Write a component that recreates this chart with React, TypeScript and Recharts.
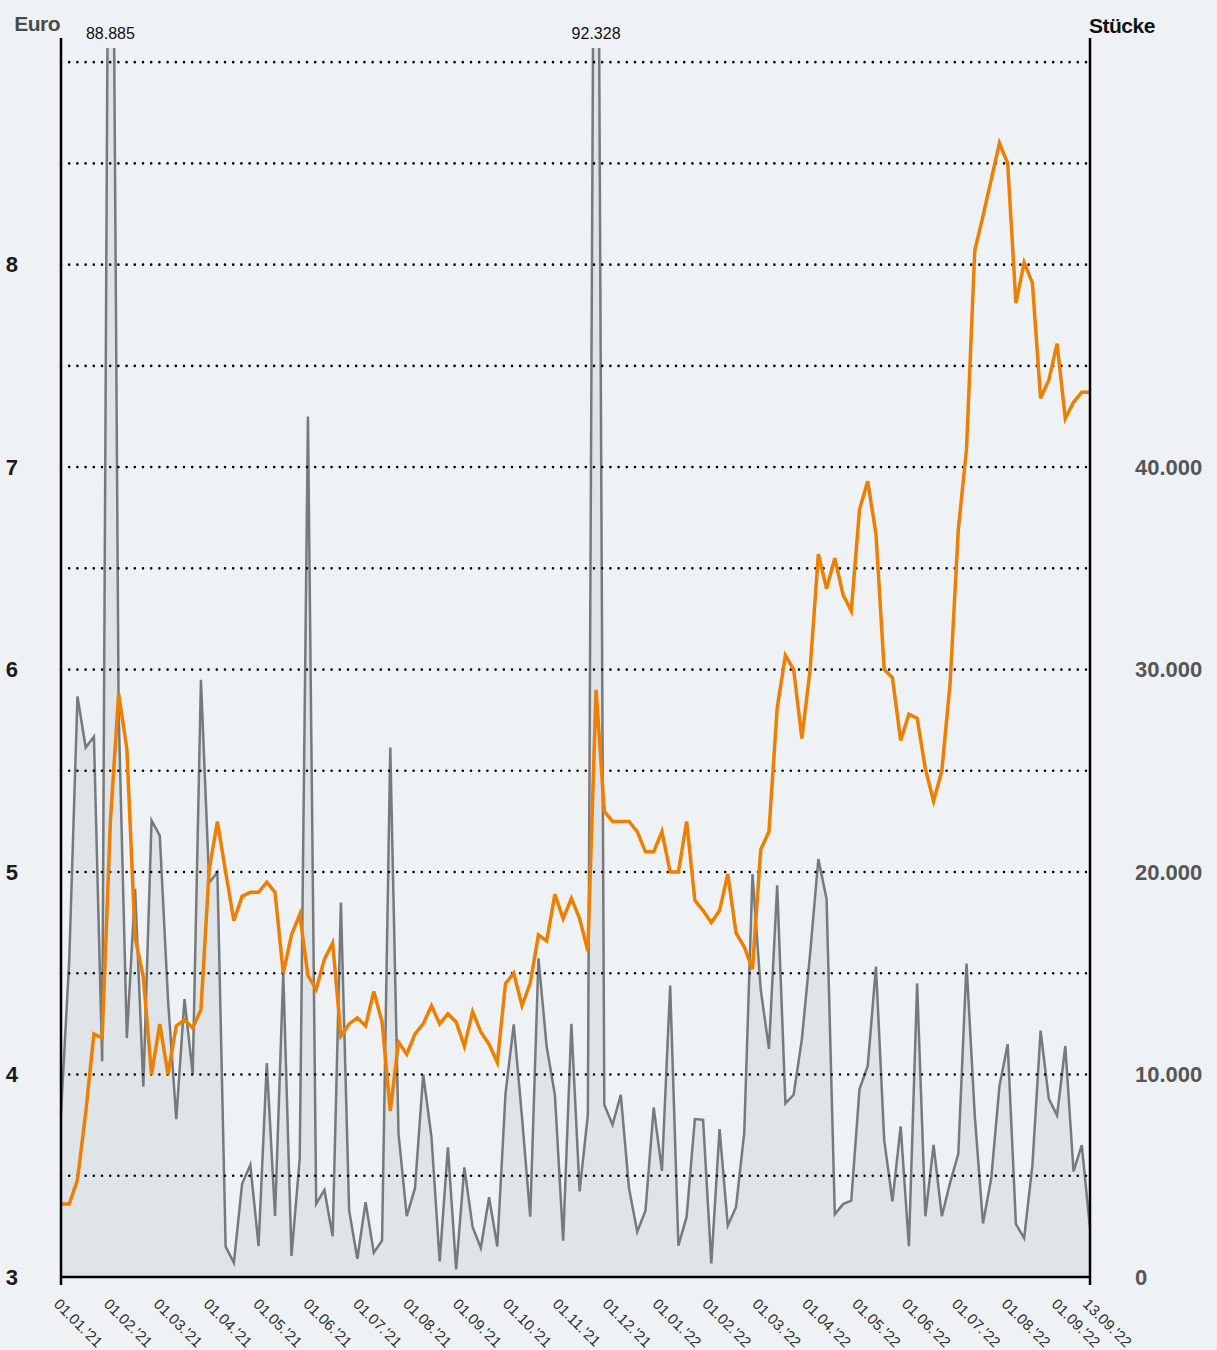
import React from 'react';
import { ComposedChart, Area, Line, XAxis, YAxis, ReferenceLine, ReferenceDot } from 'recharts';

// ---- data ----
const monthLabels = [
  "01.01.'21", "01.02.'21", "01.03.'21", "01.04.'21", "01.05.'21", "01.06.'21",
  "01.07.'21", "01.08.'21", "01.09.'21", "01.10.'21", "01.11.'21", "01.12.'21",
  "01.01.'22", "01.02.'22", "01.03.'22", "01.04.'22", "01.05.'22", "01.06.'22",
  "01.07.'22", "01.08.'22", "01.09.'22",
];
const lastLabel = "13.09.'22";

const price = [
  3.36, 3.36, 3.48, 3.81, 4.20, 4.18, 5.25, 5.88, 5.61, 4.68,
  4.48, 4.00, 4.25, 4.00, 4.24, 4.27, 4.23, 4.32, 5.01, 5.25,
  5.00, 4.76, 4.88, 4.90, 4.90, 4.95, 4.90, 4.50, 4.69, 4.79,
  4.49, 4.42, 4.57, 4.65, 4.19, 4.25, 4.28, 4.24, 4.41, 4.26,
  3.82, 4.16, 4.10, 4.20, 4.25, 4.34, 4.25, 4.30, 4.26, 4.14,
  4.31, 4.21, 4.15, 4.06, 4.45, 4.50, 4.34, 4.45, 4.69, 4.66,
  4.89, 4.77, 4.87, 4.77, 4.61, 5.90, 5.30, 5.25, 5.25, 5.25,
  5.20, 5.10, 5.10, 5.20, 5.00, 5.00, 5.25, 4.86, 4.81, 4.75,
  4.81, 4.99, 4.70, 4.63, 4.52, 5.11, 5.20, 5.81, 6.07, 6.00,
  5.66, 6.00, 6.57, 6.40, 6.55, 6.37, 6.29, 6.79, 6.93, 6.67,
  6.00, 5.96, 5.65, 5.78, 5.76, 5.51, 5.35, 5.50, 5.93, 6.69,
  7.09, 8.07, 8.24, 8.42, 8.60, 8.50, 7.81, 8.01, 7.91, 7.34,
  7.43, 7.61, 7.24, 7.32, 7.37, 7.37,
];

const volume = [
  8080, 15640, 28675, 26150, 26690, 10660, 88885, 28000, 11800, 19170,
  9400, 22550, 21800, 13700, 7800, 13730, 10020, 29500, 19480, 19985,
  1500, 700, 4600, 5540, 1530, 10560, 3016, 15030, 1040, 5850,
  42500, 3620, 4300, 2010, 18500, 3290, 900, 3700, 1205, 1800,
  26150, 7070, 3010, 4385, 10000, 6925, 770, 6410, 380, 5410,
  2470, 1430, 3940, 1510, 9075, 12480, 7900, 2980, 15740, 11370,
  8985, 1793, 12510, 4230, 8010, 92328, 8505, 7515, 9000, 4385,
  2240, 3278, 8370, 5240, 14400, 1550, 2980, 7800, 7762, 675,
  7300, 2538, 3445, 7135, 19900, 14200, 11270, 19350, 8570, 9000,
  11750, 15970, 20645, 18670, 3100, 3600, 3770, 9280, 10420, 15330,
  6770, 3730, 7440, 1520, 14500, 3000, 6530, 3000, 4650, 6080,
  15480, 7980, 2645, 4860, 9430, 11500, 2615, 1920, 5500, 12170,
  8800, 7980, 11410, 5220, 6510, 2420,
];

const leftTicks = [3, 4, 5, 6, 7, 8];
const rightTicks = [0, 10000, 20000, 30000, 40000];
const gridValues = [3.5, 4, 4.5, 5, 5.5, 6, 6.5, 7, 7.5, 8, 8.5, 9];

// ---- axis setup ----
const LEFT_MIN = 3;
const LEFT_MAX = 9.07;
const RIGHT_MAX = 60700;
const MONTH_STEP = 6.06; // data points per month tick
const LAST_INDEX = price.length - 1;

const data = price.map((p, i) => ({ i, price: p, volume: volume[i] }));

const tickMap = new Map<number, string>();
monthLabels.forEach((l, k) => tickMap.set(+(k * MONTH_STEP).toFixed(3), l));
tickMap.set(LAST_INDEX, lastLabel);
const xTicks = Array.from(tickMap.keys());

const spikes = data.filter((d) => d.volume > RIGHT_MAX);

const fmtThousands = (v: number) => String(v).replace(/\B(?=(\d{3})+(?!\d))/g, '.');

const FONT = "'Liberation Sans', Arial, sans-serif";

const XTick = (props: any) => {
  const { x, y, payload } = props;
  const label = tickMap.get(payload.value) ?? '';
  const ax = x - 8;
  const ay = y + 26;
  return (
    <text
      x={ax}
      y={ay}
      transform={`rotate(45 ${ax} ${ay})`}
      textAnchor="start"
      fontSize={15}
      fontFamily={FONT}
      fill="#2e2e2e"
    >
      {label}
    </text>
  );
};

const EuroLabel = (props: any) => {
  const vb = props.viewBox || {};
  return (
    <text x={vb.x + vb.width - 1} y={vb.y - 17} textAnchor="end" fontSize={21} fontWeight="bold" letterSpacing={-0.5} fontFamily={FONT} fill="#4a4a4a">
      Euro
    </text>
  );
};

const StueckeLabel = (props: any) => {
  const vb = props.viewBox || {};
  return (
    <text x={vb.x - 1} y={vb.y - 15} textAnchor="start" fontSize={21} fontWeight="bold" letterSpacing={-0.5} fontFamily={FONT} fill="#111">
      Stücke
    </text>
  );
};

export default function App() {
  return (
    <div style={{ position: 'absolute', left: 0, top: 0, width: 1217, height: 1350, background: '#EEF2F5' }}>
      <ComposedChart
        width={1217}
        height={1350}
        data={data}
        margin={{ top: 48, left: 11, right: 7, bottom: 13 }}
      >
        <XAxis
          dataKey="i"
          type="number"
          domain={[0, LAST_INDEX]}
          ticks={xTicks}
          interval={0}
          tick={<XTick />}
          tickLine={false}
          tickSize={0}
          height={60}
          axisLine={{ stroke: '#000', strokeWidth: 2.5 }}
        />
        <YAxis
          yAxisId="left"
          orientation="left"
          domain={[LEFT_MIN, LEFT_MAX]}
          ticks={leftTicks}
          allowDataOverflow
          width={50}
          axisLine={false}
          tickLine={false}
          tickSize={0}
          tickMargin={43}
          tick={{ fontSize: 22, fontWeight: 'bold', fill: '#1a1a1a', fontFamily: FONT }}
          label={<EuroLabel />}
        />
        <YAxis
          yAxisId="right"
          orientation="right"
          domain={[0, RIGHT_MAX]}
          ticks={rightTicks}
          allowDataOverflow
          width={120}
          axisLine={false}
          tickLine={false}
          tickSize={0}
          tickMargin={45}
          tickFormatter={fmtThousands}
          tick={{ fontSize: 22, fontWeight: 'bold', fill: '#555', fontFamily: FONT }}
          label={<StueckeLabel />}
        />

        <Area
          yAxisId="right"
          dataKey="volume"
          type="linear"
          stroke="#777a7d"
          strokeWidth={2.5}
          fill="#DEE4E8"
          fillOpacity={1}
          dot={false}
          activeDot={false}
          isAnimationActive={false}
        />

        {gridValues.map((g) => (
          <ReferenceLine
            key={g}
            yAxisId="left"
            y={g}
            stroke="#000"
            strokeWidth={2.6}
            strokeDasharray="0 8.2"
            strokeLinecap="round"
          />
        ))}

        <Line
          yAxisId="left"
          dataKey="price"
          type="linear"
          stroke="#EF7F00"
          strokeWidth={3.5}
          dot={false}
          activeDot={false}
          isAnimationActive={false}
        />

        <ReferenceLine
          yAxisId="left"
          segment={[{ x: 0, y: 2.96 }, { x: 0, y: 9.12 }]}
          stroke="#000"
          strokeWidth={2.5}
          ifOverflow="visible"
        />
        <ReferenceLine
          yAxisId="left"
          segment={[{ x: LAST_INDEX, y: 2.96 }, { x: LAST_INDEX, y: 9.12 }]}
          stroke="#000"
          strokeWidth={2.5}
          ifOverflow="visible"
        />

        {spikes.map((s) => (
          <ReferenceDot
            key={s.i}
            yAxisId="left"
            x={s.i}
            y={LEFT_MAX}
            r={0}
            fill="none"
            stroke="none"
            ifOverflow="visible"
            label={{ value: fmtThousands(s.volume), position: 'top', offset: 9, fontSize: 16, fill: '#111', fontFamily: FONT }}
          />
        ))}
      </ComposedChart>
    </div>
  );
}
